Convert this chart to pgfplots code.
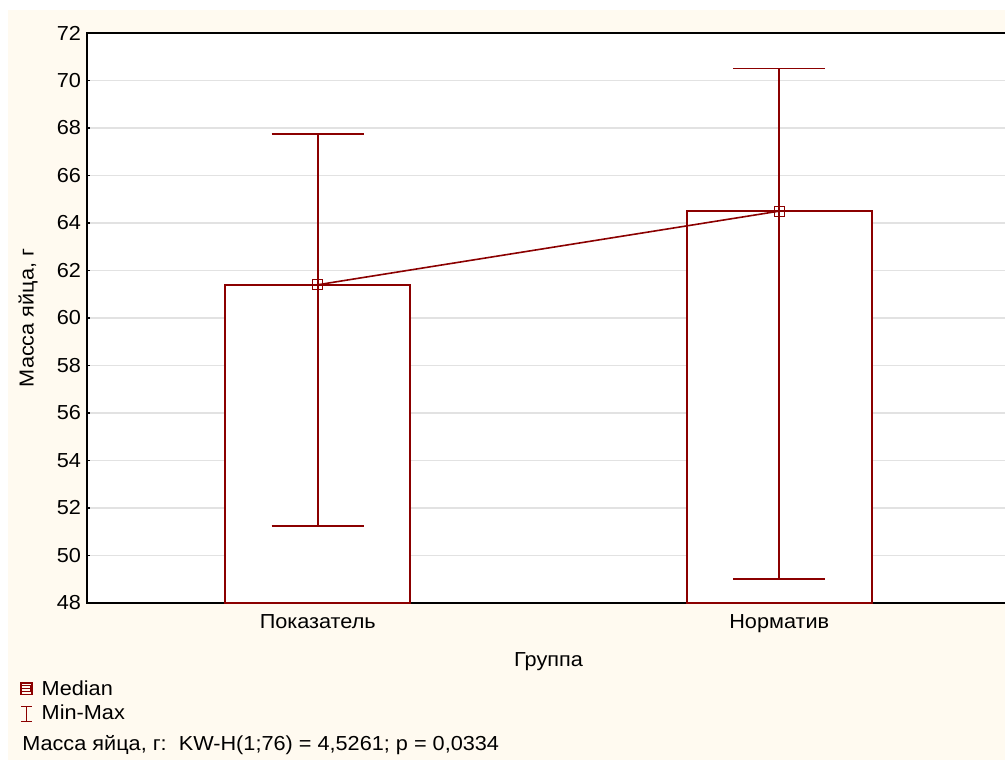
\documentclass[border=0pt]{standalone}
\usepackage{fontspec}
\setmainfont{Liberation Sans}[FakeStretch=1.07]
\usepackage{pgfplots}
\usepackage{pgfplotstable}
\pgfplotsset{compat=1.18}
\definecolor{bgcream}{RGB}{255,250,240}
\definecolor{dred}{RGB}{139,0,0}
\definecolor{gridc}{RGB}{226,226,226}
\newcommand{\chartfont}{\fontsize{15.2}{18}\selectfont}

% group, median
\pgfplotstableread{
x   med
0   61.4
1   64.5
}\eggmass

% min-max whiskers: stem and caps, segments separated by nan
\pgfplotstableread{
x      y
0      51.25
0      67.75
nan    nan
-0.1   67.75
0.1    67.75
nan    nan
-0.1   51.25
0.1    51.25
nan    nan
1      49.0
1      70.5
nan    nan
0.9    70.5
1.1    70.5
nan    nan
0.9    49.0
1.1    49.0
}\eggrange

\begin{document}
\begin{tikzpicture}
\useasboundingbox (0,0) rectangle (753.75pt,-570pt);
\fill[white] (0,0) rectangle (753.75pt,-570pt);
\fill[bgcream] (6pt,-7.5pt) rectangle (753.75pt,-570pt);
\begin{scope}
\clip (0,0) rectangle (753.75pt,-570pt);
\begin{axis}[
  at={(65.25pt,-452.25pt)}, anchor=south west,
  scale only axis, width=692.25pt, height=427.5pt,
  xmin=-0.5, xmax=1.5, ymin=48, ymax=72,
  xtick={0,1}, xticklabels={Показатель,Норматив},
  ytick={48,50,...,72},
  ytick pos=left,
  major x tick style={draw=none},
  tick align=inside, major tick length=2.5pt,
  tick style={black, line width=0.8pt},
  axis line style={black, line width=1.2pt},
  axis background/.style={fill=white},
  ymajorgrids, grid style={gridc, line width=0.8pt},
  /pgf/number format/assume math mode=true,
  tick label style={font=\chartfont},
  xticklabel style={yshift=-5pt},
  yticklabel style={xshift=-1pt},
  xlabel={Группа},
  every axis x label/.style={at={(axis description cs:0.5,-0.1035)}, anchor=center, font=\chartfont},
  ylabel={Масса яйца, г},
  every axis y label/.style={at={(axis description cs:-0.0639,0.5)}, rotate=90, anchor=center, font=\chartfont},
  legend style={at={(axis description cs:-0.0726,-0.1318)}, anchor=north west,
    draw=none, fill=none, inner sep=0pt, font=\chartfont, row sep=1.5pt},
  legend cell align=left,
  unbounded coords=jump,
]
% median bars
\addplot[ybar, bar width=0.4, fill=white, draw=dred, line width=1.5pt, forget plot]
  table[x=x, y=med] {\eggmass};
% min-max whiskers
\addplot[dred, line width=1.2pt, mark=none, forget plot]
  table[x=x, y=y] {\eggrange};
% median line
\addplot[dred, line width=1.2pt, mark=square, mark size=3.75pt,
  mark options={line width=0.9pt, fill=none}, forget plot]
  table[x=x, y=med] {\eggmass};
\addlegendimage{legend image code/.code={
  \path[draw=none, fill=none] (0pt,-0.1pt) rectangle (13.5pt,0.1pt);
  \draw[dred, line width=1.2pt] (0pt,-3.8pt) rectangle (8pt,4.8pt);
  \draw[dred, line width=0.7pt] (0.6pt,-1.9pt) rectangle (7.4pt,2.9pt);
  \draw[dred, line width=0.7pt] (0.6pt,0.5pt) -- (7.4pt,0.5pt);
}}
\addlegendentry{Median}
\addlegendimage{legend image code/.code={
  \path[draw=none, fill=none] (0pt,-0.1pt) rectangle (13.5pt,0.1pt);
  \draw[dred, line width=0.8pt] (4pt,-5.8pt) -- (4pt,5.4pt);
  \draw[dred, line width=0.8pt] (0pt,-5.8pt) -- (8pt,-5.8pt);
  \draw[dred, line width=0.8pt] (0pt,5.4pt) -- (8pt,5.4pt);
}}
\addlegendentry{Min-Max}
\end{axis}
\end{scope}
\node[anchor=west, inner sep=0pt, font=\chartfont] at (16.5pt,-558.5pt)
  {Масса яйца, г:\ \ KW-H(1;76) = 4,5261; p = 0,0334};
\end{tikzpicture}
\end{document}
